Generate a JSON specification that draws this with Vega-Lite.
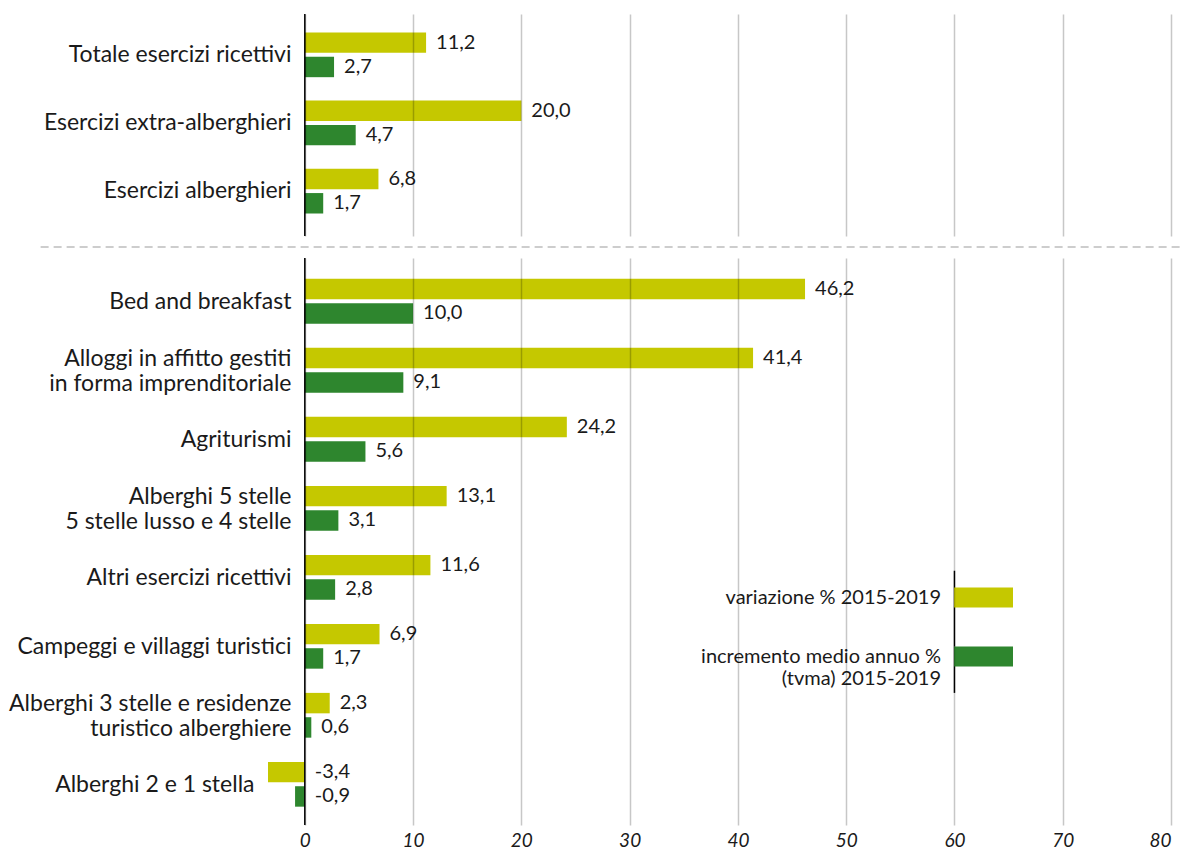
{
  "$schema": "https://vega.github.io/schema/vega-lite/v6.json",
  "padding": {"left": 8, "top": 13, "right": 0, "bottom": 0},
  "background": "#ffffff",
  "spacing": 8.5,
  "config": {
    "font": "Lato",
    "view": {"stroke": null},
    "locale": {"number": {"decimal": ",", "thousands": ".", "grouping": [3], "currency": ["", " €"], "minus": "-"}},
    "axis": {"gridColor": "#000000", "gridOpacity": 0.22, "gridWidth": 1.5}
  },
  "datasets": {
    "top": [
      {"cat": "Totale esercizi ricettivi", "serie": "variazione % 2015-2019", "v": 11.2},
      {"cat": "Totale esercizi ricettivi", "serie": "incremento medio annuo % (tvma) 2015-2019", "v": 2.7},
      {"cat": "Esercizi extra-alberghieri", "serie": "variazione % 2015-2019", "v": 20.0},
      {"cat": "Esercizi extra-alberghieri", "serie": "incremento medio annuo % (tvma) 2015-2019", "v": 4.7},
      {"cat": "Esercizi alberghieri", "serie": "variazione % 2015-2019", "v": 6.8},
      {"cat": "Esercizi alberghieri", "serie": "incremento medio annuo % (tvma) 2015-2019", "v": 1.7}
    ],
    "bottom": [
      {"cat": "Bed and breakfast", "serie": "variazione % 2015-2019", "v": 46.2},
      {"cat": "Bed and breakfast", "serie": "incremento medio annuo % (tvma) 2015-2019", "v": 10.0},
      {"cat": "Alloggi in affitto gestiti in forma imprenditoriale", "serie": "variazione % 2015-2019", "v": 41.4},
      {"cat": "Alloggi in affitto gestiti in forma imprenditoriale", "serie": "incremento medio annuo % (tvma) 2015-2019", "v": 9.1},
      {"cat": "Agriturismi", "serie": "variazione % 2015-2019", "v": 24.2},
      {"cat": "Agriturismi", "serie": "incremento medio annuo % (tvma) 2015-2019", "v": 5.6},
      {"cat": "Alberghi 5 stelle 5 stelle lusso e 4 stelle", "serie": "variazione % 2015-2019", "v": 13.1},
      {"cat": "Alberghi 5 stelle 5 stelle lusso e 4 stelle", "serie": "incremento medio annuo % (tvma) 2015-2019", "v": 3.1},
      {"cat": "Altri esercizi ricettivi", "serie": "variazione % 2015-2019", "v": 11.6},
      {"cat": "Altri esercizi ricettivi", "serie": "incremento medio annuo % (tvma) 2015-2019", "v": 2.8},
      {"cat": "Campeggi e villaggi turistici", "serie": "variazione % 2015-2019", "v": 6.9},
      {"cat": "Campeggi e villaggi turistici", "serie": "incremento medio annuo % (tvma) 2015-2019", "v": 1.7},
      {"cat": "Alberghi 3 stelle e residenze turistico alberghiere", "serie": "variazione % 2015-2019", "v": 2.3},
      {"cat": "Alberghi 3 stelle e residenze turistico alberghiere", "serie": "incremento medio annuo % (tvma) 2015-2019", "v": 0.6},
      {"cat": "Alberghi 2 e 1 stella", "serie": "variazione % 2015-2019", "v": -3.4},
      {"cat": "Alberghi 2 e 1 stella", "serie": "incremento medio annuo % (tvma) 2015-2019", "v": -0.9}
    ]
  },
  "resolve": {"scale": {"y": "independent", "color": "independent"}, "legend": {"color": "independent"}},
  "vconcat": [
    {
      "width": 903,
      "height": 222,
      "data": {"name": "top"},
      "layer": [
        {
          "mark": {"type": "bar"},
          "encoding": {
            "y": {"field": "cat", "type": "nominal", "sort": null,
              "scale": {"paddingInner": 0.343, "paddingOuter": 0.3, "align": 0.45},
              "axis": {"title": null, "ticks": false, "domain": false, "labelPadding": 0, "offset": -23, "labelFontSize": 23, "labelColor": "#1a1a1a", "labelLimit": 400}},
            "yOffset": {"field": "serie", "type": "nominal", "sort": ["variazione % 2015-2019", "incremento medio annuo % (tvma) 2015-2019"], "scale": {"paddingInner": 0.16, "paddingOuter": 0}},
            "x": {"field": "v", "type": "quantitative", "scale": {"domain": [-3.4, 80], "nice": false, "zero": false},
              "axis": {"values": [0, 10, 20, 30, 40, 50, 60, 70, 80], "labels": false, "ticks": false, "domain": false, "grid": true, "title": null, "zindex": 1}},
            "color": {"field": "serie", "type": "nominal", "scale": {"domain": ["variazione % 2015-2019", "incremento medio annuo % (tvma) 2015-2019"], "range": ["#c5c800", "#2e862e"]}, "legend": null}
          }
        },
        {
          "transform": [{"filter": "datum.v >= 0"}],
          "mark": {"type": "text", "align": "left", "baseline": "middle", "dx": 10, "fontSize": 20, "color": "#1a1a1a"},
          "encoding": {
            "y": {"field": "cat", "type": "nominal", "sort": null},
            "yOffset": {"field": "serie", "type": "nominal", "sort": ["variazione % 2015-2019", "incremento medio annuo % (tvma) 2015-2019"]},
            "x": {"field": "v", "type": "quantitative"},
            "text": {"field": "v", "type": "quantitative", "format": ".1f"}
          }
        },
        {
          "data": {"values": [{}]},
          "mark": {"type": "rule", "color": "#000000", "strokeWidth": 1.5},
          "encoding": {"x": {"datum": 0, "type": "quantitative"}}
        }
      ]
    },
    {
      "width": 903,
      "height": 1,
      "data": {"values": [{}]},
      "mark": {"type": "rule", "color": "#bdbdbd", "strokeWidth": 1.5, "strokeDash": [8, 5]},
      "encoding": {
        "x": {"datum": -24.4, "type": "quantitative", "scale": {"domain": [-3.4, 80], "nice": false, "zero": false}, "axis": null},
        "x2": {"datum": 81.1}
      }
    },
    {
      "width": 903,
      "height": 567,
      "data": {"name": "bottom"},
      "layer": [
        {
          "mark": {"type": "bar"},
          "encoding": {
            "y": {"field": "cat", "type": "nominal", "sort": null,
              "scale": {"paddingInner": 0.343, "paddingOuter": 0.28, "align": 0.54},
              "axis": {"title": null, "ticks": false, "domain": false, "offset": -23, "labelFontSize": 23, "labelColor": "#1a1a1a", "labelLimit": 400, "labelLineHeight": 25,
                "labelPadding": {"condition": {"test": "datum.value === 'Alberghi 2 e 1 stella'", "value": 37}, "value": 0},
                "labelOffset": {"condition": {"test": "datum.value === 'Alloggi in affitto gestiti in forma imprenditoriale' || datum.value === 'Alberghi 5 stelle 5 stelle lusso e 4 stelle' || datum.value === 'Alberghi 3 stelle e residenze turistico alberghiere'", "value": -12}, "value": 0},
                "labelExpr": "datum.label == 'Alloggi in affitto gestiti in forma imprenditoriale' ? ['Alloggi in affitto gestiti', 'in forma imprenditoriale'] : datum.label == 'Alberghi 5 stelle 5 stelle lusso e 4 stelle' ? ['Alberghi 5 stelle', '5 stelle lusso e 4 stelle'] : datum.label == 'Alberghi 3 stelle e residenze turistico alberghiere' ? ['Alberghi 3 stelle e residenze', 'turistico alberghiere'] : datum.label"}},
            "yOffset": {"field": "serie", "type": "nominal", "sort": ["variazione % 2015-2019", "incremento medio annuo % (tvma) 2015-2019"], "scale": {"paddingInner": 0.16, "paddingOuter": 0}},
            "x": {"field": "v", "type": "quantitative", "scale": {"domain": [-3.4, 80], "nice": false, "zero": false},
              "axis": {"values": [0, 10, 20, 30, 40, 50, 60, 70, 80], "format": "d", "ticks": false, "domain": false, "grid": true, "title": null, "zindex": 1, "labelPadding": 6, "labelFontSize": 19, "labelFontStyle": "italic", "labelColor": "#1a1a1a"}},
            "color": {"field": "serie", "type": "nominal", "scale": {"domain": ["variazione % 2015-2019", "incremento medio annuo % (tvma) 2015-2019"], "range": ["#c5c800", "#2e862e"]},
              "legend": {"orient": "none", "legendX": 686, "legendY": 310, "title": null, "padding": 0, "rowPadding": 19,
                "symbolType": "M-1,-0.34L1,-0.34L1,0.34L-1,0.34Z", "symbolSize": 3481, "symbolStrokeWidth": 0, "symbolOpacity": 1,
                "labelAlign": "right", "labelOffset": -72, "labelFontSize": 20, "labelColor": "#1a1a1a", "labelLimit": 400, "labelLineHeight": 24,
                "labelExpr": "datum.label == 'incremento medio annuo % (tvma) 2015-2019' ? ['incremento medio annuo %', '(tvma) 2015-2019'] : datum.label"}}
          }
        },
        {
          "transform": [{"filter": "datum.v >= 0"}],
          "mark": {"type": "text", "align": "left", "baseline": "middle", "dx": 10, "fontSize": 20, "color": "#1a1a1a"},
          "encoding": {
            "y": {"field": "cat", "type": "nominal", "sort": null},
            "yOffset": {"field": "serie", "type": "nominal", "sort": ["variazione % 2015-2019", "incremento medio annuo % (tvma) 2015-2019"]},
            "x": {"field": "v", "type": "quantitative"},
            "text": {"field": "v", "type": "quantitative", "format": ".1f"}
          }
        },
        {
          "transform": [{"filter": "datum.v < 0"}],
          "mark": {"type": "text", "align": "left", "baseline": "middle", "dx": 10, "fontSize": 20, "color": "#1a1a1a"},
          "encoding": {
            "y": {"field": "cat", "type": "nominal", "sort": null},
            "yOffset": {"field": "serie", "type": "nominal", "sort": ["variazione % 2015-2019", "incremento medio annuo % (tvma) 2015-2019"]},
            "x": {"datum": 0, "type": "quantitative"},
            "text": {"field": "v", "type": "quantitative", "format": ".1f"}
          }
        },
        {
          "data": {"values": [{}]},
          "mark": {"type": "rule", "color": "#000000", "strokeWidth": 1.5},
          "encoding": {"x": {"datum": 0, "type": "quantitative"}}
        },
        {
          "data": {"values": [{}]},
          "mark": {"type": "rule", "color": "#000000", "strokeWidth": 1.5},
          "encoding": {
            "x": {"datum": 60, "type": "quantitative"},
            "y": {"datum": "Altri esercizi ricettivi", "type": "nominal", "bandPosition": 0.35},
            "y2": {"datum": "Campeggi e villaggi turistici"}
          }
        },
        {
          "data": {"values": [{}]},
          "mark": {"type": "rule", "color": "#000000", "strokeWidth": 1.5},
          "encoding": {
            "x": {"datum": 60, "type": "quantitative"},
            "y": {"datum": "Alberghi 3 stelle e residenze turistico alberghiere", "type": "nominal", "bandPosition": 0},
            "y2": {"datum": "Campeggi e villaggi turistici"}
          }
        }
      ]
    }
  ]
}
